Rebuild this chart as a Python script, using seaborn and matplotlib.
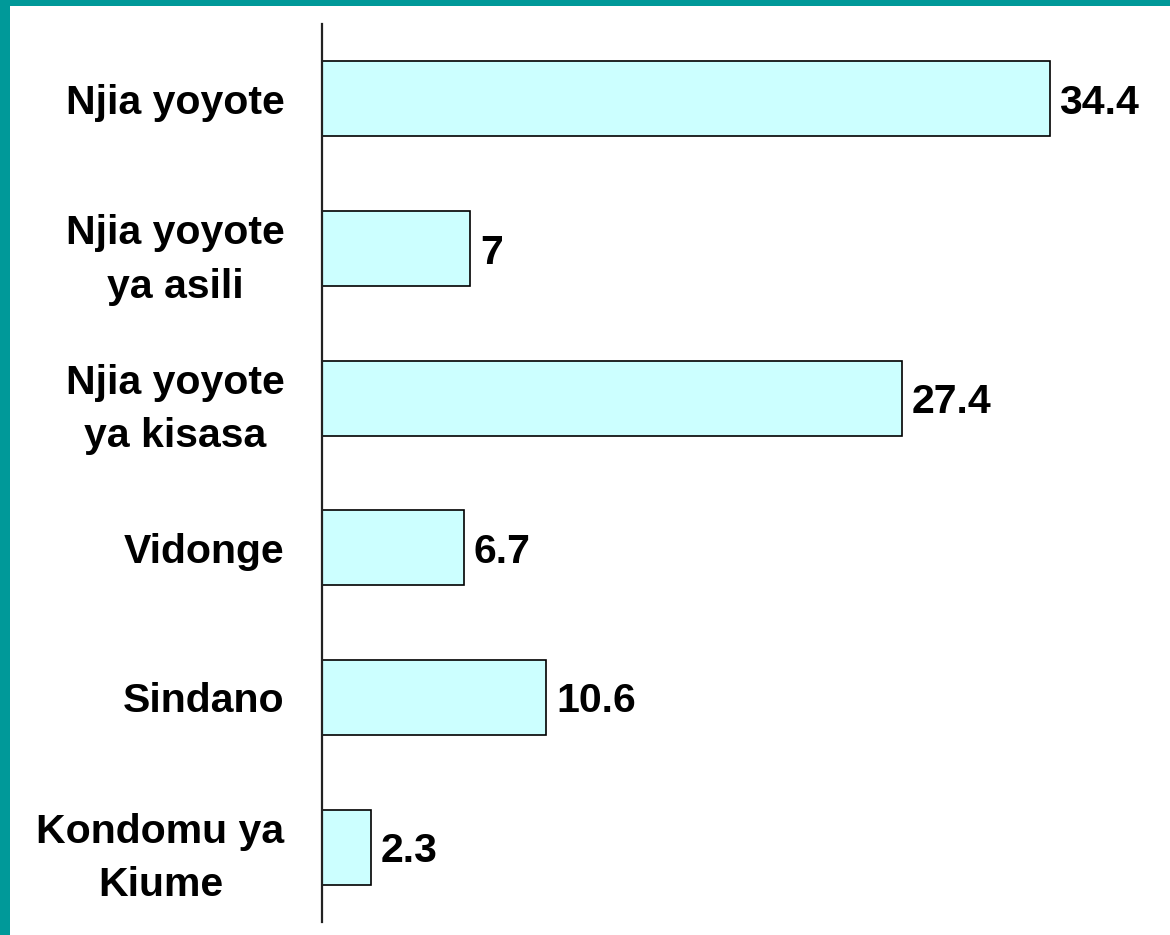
import matplotlib
matplotlib.use("Agg")
import matplotlib.pyplot as plt
import seaborn as sns
import pandas as pd
from matplotlib.patches import Rectangle

categories = [
    "Njia yoyote",
    "Njia yoyote\nya asili",
    "Njia yoyote\nya kisasa",
    "Vidonge",
    "Sindano",
    "Kondomu ya\nKiume",
]
values = [34.4, 7, 27.4, 6.7, 10.6, 2.3]

df = pd.DataFrame({"category": categories, "value": values})

sns.set_style("white")
plt.rcParams["font.family"] = ["Liberation Sans", "DejaVu Sans"]
plt.rcParams["text.color"] = "black"
plt.rcParams["ytick.color"] = "black"
plt.rcParams["ytick.labelcolor"] = "black"

W, H = 1170, 935
fig = plt.figure(figsize=(W / 100, H / 100), dpi=100)
fig.patch.set_facecolor("white")

ax = fig.add_axes([322 / W, 1 - 922 / H, (1168 - 322) / W, (922 - 24) / H])

sns.barplot(
    data=df, x="value", y="category", orient="h",
    color="#CCFFFF", saturation=1, width=0.5,
    edgecolor="black", linewidth=1.2, ax=ax,
)

ax.set_xlim(0, 40)
ax.set_ylim(5.5, -0.5)
ax.set_xlabel("")
ax.set_ylabel("")
ax.set_xticks([])

for s in ["top", "right", "bottom"]:
    ax.spines[s].set_visible(False)
ax.spines["left"].set_color("#222222")
ax.spines["left"].set_linewidth(1.6)

ax.tick_params(axis="y", length=0, pad=27, labelcolor="black")
for lbl in ax.get_yticklabels():
    lbl.set_fontsize(29.5)
    lbl.set_fontweight("bold")
    lbl.set_color("black")
    lbl.set_multialignment("center")
    lbl.set_linespacing(1.5)

texts = ax.bar_label(ax.containers[0], fmt="{:g}", padding=7,
                     fontsize=29.5, fontweight="bold", color="black")
for t in texts:
    t.set_va("center_baseline")

# teal frame on top and left edges
teal = "#009999"
fig.patches.append(Rectangle((0, 1 - 6 / H), 1, 6 / H, transform=fig.transFigure,
                             facecolor=teal, edgecolor="none", zorder=10))
fig.patches.append(Rectangle((0, 0), 10 / W, 1, transform=fig.transFigure,
                             facecolor=teal, edgecolor="none", zorder=10))

fig.savefig("out.png", dpi=100)
